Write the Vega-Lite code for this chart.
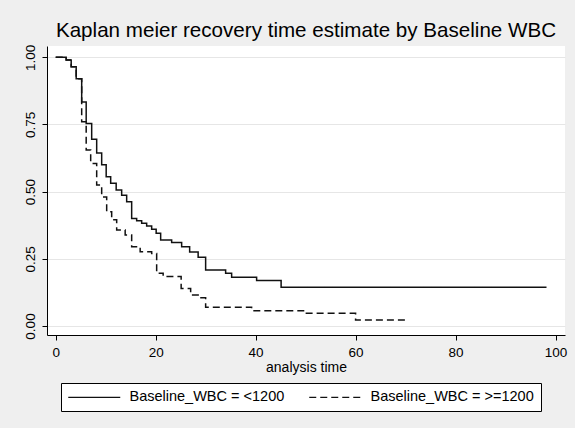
{
  "$schema": "https://vega.github.io/schema/vega-lite/v6.json",
  "width": 518,
  "height": 289,
  "autosize": {"type": "none"},
  "padding": {"left": 47, "top": 46, "right": 10, "bottom": 93},
  "background": "#efefef",
  "title": {
    "text": "Kaplan meier recovery time estimate by Baseline WBC",
    "font": "Liberation Sans",
    "fontSize": 20.6,
    "fontWeight": "normal",
    "color": "#000000",
    "anchor": "middle",
    "offset": 3
  },
  "config": {
    "font": "Liberation Sans",
    "view": {"fill": "#ffffff", "stroke": null},
    "axis": {
      "domainColor": "#000000",
      "tickColor": "#000000",
      "tickSize": 5,
      "labelColor": "#000000",
      "labelFont": "Liberation Sans",
      "labelFontSize": 13.5,
      "titleColor": "#000000",
      "titleFont": "Liberation Sans",
      "titleFontWeight": "normal"
    }
  },
  "data": {
    "values": [
      {"group": "Baseline_WBC = <1200", "t": 0, "S": 1.0},
      {"group": "Baseline_WBC = <1200", "t": 2.1, "S": 0.99},
      {"group": "Baseline_WBC = <1200", "t": 3.1, "S": 0.965},
      {"group": "Baseline_WBC = <1200", "t": 4.1, "S": 0.92},
      {"group": "Baseline_WBC = <1200", "t": 5.2, "S": 0.834},
      {"group": "Baseline_WBC = <1200", "t": 6.1, "S": 0.754},
      {"group": "Baseline_WBC = <1200", "t": 7.2, "S": 0.695},
      {"group": "Baseline_WBC = <1200", "t": 8.2, "S": 0.644},
      {"group": "Baseline_WBC = <1200", "t": 9.2, "S": 0.6},
      {"group": "Baseline_WBC = <1200", "t": 10.1, "S": 0.555},
      {"group": "Baseline_WBC = <1200", "t": 11, "S": 0.531},
      {"group": "Baseline_WBC = <1200", "t": 12.1, "S": 0.506},
      {"group": "Baseline_WBC = <1200", "t": 13.2, "S": 0.487},
      {"group": "Baseline_WBC = <1200", "t": 14.2, "S": 0.462},
      {"group": "Baseline_WBC = <1200", "t": 15.2, "S": 0.4},
      {"group": "Baseline_WBC = <1200", "t": 16.2, "S": 0.392},
      {"group": "Baseline_WBC = <1200", "t": 17.2, "S": 0.382},
      {"group": "Baseline_WBC = <1200", "t": 18.2, "S": 0.372},
      {"group": "Baseline_WBC = <1200", "t": 19.2, "S": 0.36},
      {"group": "Baseline_WBC = <1200", "t": 20.1, "S": 0.345},
      {"group": "Baseline_WBC = <1200", "t": 21, "S": 0.32},
      {"group": "Baseline_WBC = <1200", "t": 23.2, "S": 0.311},
      {"group": "Baseline_WBC = <1200", "t": 25.2, "S": 0.295},
      {"group": "Baseline_WBC = <1200", "t": 26.8, "S": 0.275},
      {"group": "Baseline_WBC = <1200", "t": 28.5, "S": 0.256},
      {"group": "Baseline_WBC = <1200", "t": 30, "S": 0.208},
      {"group": "Baseline_WBC = <1200", "t": 34, "S": 0.196},
      {"group": "Baseline_WBC = <1200", "t": 35.2, "S": 0.181},
      {"group": "Baseline_WBC = <1200", "t": 40.2, "S": 0.169},
      {"group": "Baseline_WBC = <1200", "t": 45.1, "S": 0.144},
      {"group": "Baseline_WBC = <1200", "t": 98.2, "S": 0.144},
      {"group": "Baseline_WBC = >=1200", "t": 0, "S": 1.0},
      {"group": "Baseline_WBC = >=1200", "t": 2.1, "S": 0.99},
      {"group": "Baseline_WBC = >=1200", "t": 3.1, "S": 0.965},
      {"group": "Baseline_WBC = >=1200", "t": 4.1, "S": 0.92},
      {"group": "Baseline_WBC = >=1200", "t": 5.2, "S": 0.76},
      {"group": "Baseline_WBC = >=1200", "t": 6.1, "S": 0.655},
      {"group": "Baseline_WBC = >=1200", "t": 7, "S": 0.605},
      {"group": "Baseline_WBC = >=1200", "t": 8.2, "S": 0.525},
      {"group": "Baseline_WBC = >=1200", "t": 9.2, "S": 0.48},
      {"group": "Baseline_WBC = >=1200", "t": 10.2, "S": 0.425},
      {"group": "Baseline_WBC = >=1200", "t": 11.2, "S": 0.395},
      {"group": "Baseline_WBC = >=1200", "t": 12.2, "S": 0.357},
      {"group": "Baseline_WBC = >=1200", "t": 13.9, "S": 0.339},
      {"group": "Baseline_WBC = >=1200", "t": 15.2, "S": 0.295},
      {"group": "Baseline_WBC = >=1200", "t": 16.9, "S": 0.276},
      {"group": "Baseline_WBC = >=1200", "t": 19.2, "S": 0.27},
      {"group": "Baseline_WBC = >=1200", "t": 20.2, "S": 0.196},
      {"group": "Baseline_WBC = >=1200", "t": 21.5, "S": 0.184},
      {"group": "Baseline_WBC = >=1200", "t": 25.1, "S": 0.14},
      {"group": "Baseline_WBC = >=1200", "t": 27, "S": 0.115},
      {"group": "Baseline_WBC = >=1200", "t": 28.5, "S": 0.105},
      {"group": "Baseline_WBC = >=1200", "t": 30, "S": 0.07},
      {"group": "Baseline_WBC = >=1200", "t": 39.2, "S": 0.057},
      {"group": "Baseline_WBC = >=1200", "t": 49.9, "S": 0.047},
      {"group": "Baseline_WBC = >=1200", "t": 60, "S": 0.022},
      {"group": "Baseline_WBC = >=1200", "t": 70.2, "S": 0.022}
    ]
  },
  "mark": {
    "type": "line",
    "interpolate": "step-after",
    "color": "#111111",
    "strokeWidth": 1.5
  },
  "encoding": {
    "x": {
      "field": "t",
      "type": "quantitative",
      "scale": {"domain": [-1.74, 101.9], "nice": false, "zero": false},
      "axis": {
        "values": [0, 20, 40, 60, 80, 100],
        "title": "analysis time",
        "titleFontSize": 14,
        "titlePadding": 2,
        "labelPadding": 5,
        "grid": false
      }
    },
    "y": {
      "field": "S",
      "type": "quantitative",
      "scale": {"domain": [-0.0335, 1.042], "nice": false, "zero": false},
      "axis": {
        "values": [0, 0.25, 0.5, 0.75, 1],
        "format": ".2f",
        "title": null,
        "labelAngle": 270,
        "labelAlign": "center",
        "labelBaseline": "bottom",
        "labelPadding": 5,
        "grid": true,
        "gridColor": "#e6e6e6",
        "gridWidth": 1
      }
    },
    "strokeDash": {
      "field": "group",
      "type": "nominal",
      "scale": {
        "domain": ["Baseline_WBC = <1200", "Baseline_WBC = >=1200"],
        "range": [[1, 0], [7, 4]]
      },
      "legend": {
        "title": null,
        "orient": "none",
        "legendX": 14,
        "legendY": 337,
        "direction": "horizontal",
        "columns": 2,
        "columnPadding": 21,
        "padding": 7,
        "fillColor": "#ffffff",
        "strokeColor": "#000000",
        "cornerRadius": 0,
        "symbolType": "M-1.4,0L9,0",
        "symbolSize": 100,
        "symbolStrokeWidth": 1.3,
        "symbolStrokeColor": "#111111",
        "labelOffset": 47,
        "labelLimit": 400,
        "labelFontSize": 14.5,
        "labelColor": "#000000",
        "labelFont": "Liberation Sans"
      }
    }
  }
}
